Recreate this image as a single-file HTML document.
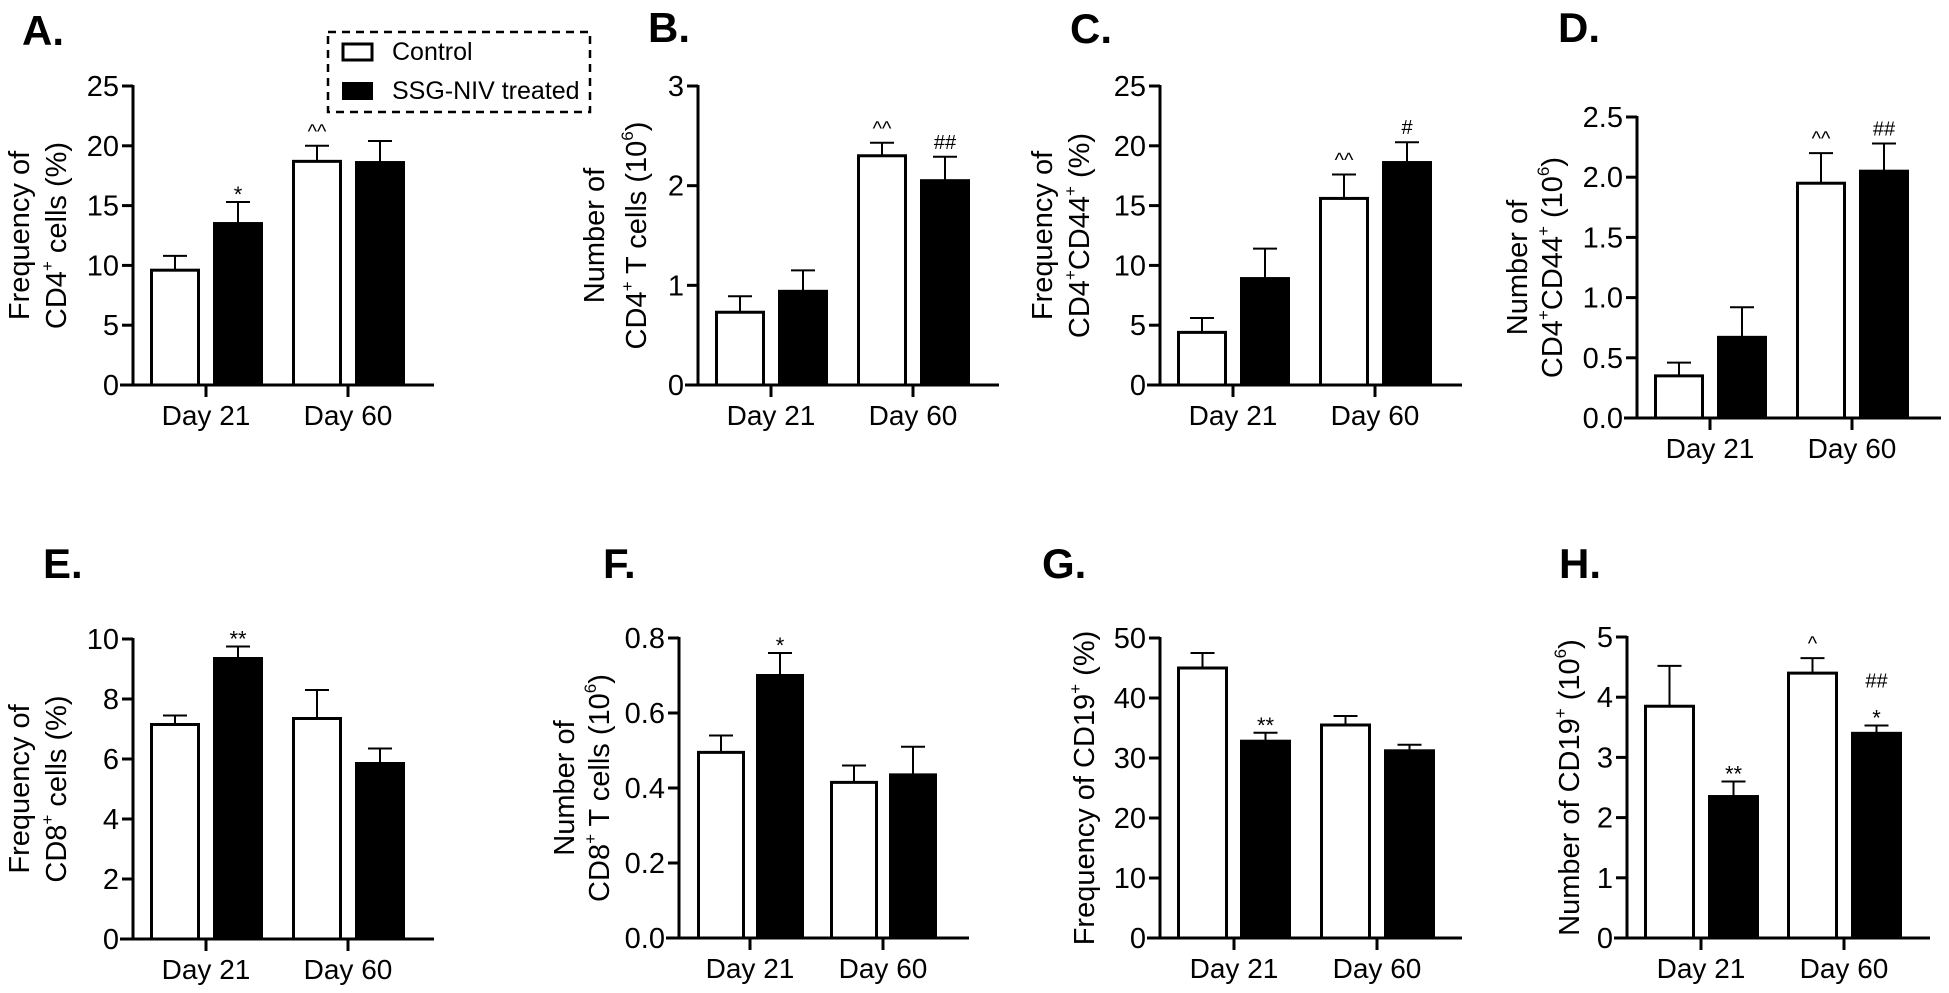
<!DOCTYPE html>
<html><head><meta charset="utf-8">
<style>
html,body{margin:0;padding:0;background:#fff;}
svg{display:block;font-family:"Liberation Sans",Arial,sans-serif;}
</style></head>
<body>
<svg id="fig" width="1949" height="993" viewBox="0 0 1949 993" xmlns="http://www.w3.org/2000/svg">
  <g>
    <rect x="328" y="32" width="262" height="80" fill="none" stroke="#000" stroke-width="2.5" stroke-dasharray="8,6"/>
    <rect x="343" y="44" width="29" height="16" fill="#fff" stroke="#000" stroke-width="3"/>
    <text x="392" y="60" font-size="25">Control</text>
    <rect x="342" y="82" width="31" height="18" fill="#000"/>
    <text x="392" y="99" font-size="25">SSG-NIV treated</text>
  </g>
</svg>
<script>
// ---- data ----
const groups = ["Day 21", "Day 60"];
const panelIds = ["A","B","C","D","E","F","G","H"];
const controlVals = [[9.6,18.7],[0.73,2.3],[4.4,15.6],[0.35,1.95],[7.15,7.35],[0.495,0.415],[45,35.5],[3.85,4.4]];
const controlErr  = [[10.8,20.0],[0.89,2.43],[5.6,17.6],[0.46,2.2],[7.45,8.3],[0.54,0.46],[47.5,37],[4.52,4.65]];
const treatedVals = [[13.5,18.6],[0.94,2.05],[8.9,18.6],[0.67,2.05],[9.35,5.85],[0.70,0.435],[32.8,31.2],[2.35,3.4]];
const treatedErr  = [[15.3,20.4],[1.15,2.29],[11.4,20.3],[0.92,2.28],[9.75,6.35],[0.76,0.51],[34.2,32.2],[2.6,3.53]];
const yMax = [25,3,25,2.5,10,0.8,50,5];
const yStep = [5,1,5,0.5,2,0.2,10,1];
const tickDecimals = [0,0,0,1,0,1,0,0];
const controlMarks = [["",'^^'],["",'^^'],["",'^^'],["",'^^'],["",""],["",""],["",""],["",'^']];
const treatedMarks = [['*',""],["",'##'],["",'#'],["",'##'],['**',""],['*',""],['**',""],['**','##|*']];

// ---- layout ----
const layout = [
 {X:133,top:86,bot:385,bw:50,off:[17,80,159,222],ticks:[73,215],end:301,lx:[20,57],lbl:["Frequency of","CD4|+| cells (%)"],lt:[22,45]},
 {X:698,top:86,bot:385,bw:50,off:[17,80,159,222],ticks:[73,215],end:301,lx:[595,637],lbl:["Number of","CD4|+| T cells (10|6|)"],lt:[648,42]},
 {X:1160,top:86,bot:385,bw:50,off:[17,80,159,222],ticks:[73,215],end:302,lx:[1043,1080],lbl:["Frequency of","CD4|+|CD44|+| (%)"],lt:[1070,43]},
 {X:1637,top:117,bot:418,bw:50,off:[17,80,159,222],ticks:[73,215],end:304,lx:[1518,1553],lbl:["Number of","CD4|+|CD44|+| (10|6|)"],lt:[1558,42]},
 {X:133,top:639,bot:939,bw:50,off:[17,80,159,222],ticks:[73,215],end:301,lx:[20,57],lbl:["Frequency of","CD8|+| cells (%)"],lt:[43,578]},
 {X:679,top:638,bot:938,bw:48,off:[18,77,151,210],ticks:[71,204],end:290,lx:[565,600],lbl:["Number of","CD8|+| T cells (10|6|)"],lt:[603,578]},
 {X:1160,top:638,bot:938,bw:51,off:[17,80,160,224],ticks:[74,217],end:302,lx:[1085],lbl:["Frequency of CD19|+| (%)"],lt:[1042,578]},
 {X:1627,top:637,bot:938,bw:51,off:[17,81,160,224],ticks:[74,217],end:303,lx:[1570],lbl:["Number of CD19|+| (10|6|)"],lt:[1559,578]}
];

const NS="http://www.w3.org/2000/svg";
const svg=document.getElementById('fig');
function mk(tag,attrs,parent){const e=document.createElementNS(NS,tag);for(const k in attrs)e.setAttribute(k,attrs[k]);parent.appendChild(e);return e;}
function richText(el,str){
  const parts=str.split('|');
  parts.forEach((p,i)=>{
    if(!p)return;
    const t=document.createElementNS(NS,'tspan');
    if(i%2===1){t.setAttribute('font-size','17');t.setAttribute('baseline-shift','super');}
    t.textContent=p;el.appendChild(t);
  });
}

panelIds.forEach((pid,i)=>{
  const L=layout[i];
  const g=mk('g',{},svg);
  
  
  const y=v=>L.bot-(v/yMax[i])*(L.bot-L.top);

  const letter=mk('text',{x:L.lt[0],y:L.lt[1],'font-size':'42','font-weight':'bold'},g);
  letter.textContent=pid+'.';
  
  

  const ya=mk('line',{x1:L.X,y1:L.top-1,x2:L.X,y2:L.bot,stroke:'#000','stroke-width':3},g);
  
  
  const nT=Math.round(yMax[i]/yStep[i]);
  for(let k=0;k<=nT;k++){
    const v=k*yStep[i];const yy=y(v);
    const tk=mk('line',{x1:L.X-11,y1:yy,x2:L.X,y2:yy,stroke:'#000','stroke-width':3},g);
    
    
    const tl=mk('text',{x:L.X-14,y:yy+10,'font-size':'29','text-anchor':'end'},g);
    tl.textContent=v.toFixed(tickDecimals[i]);
    
    
  }
  const xa=mk('line',{x1:L.X-13,y1:L.bot,x2:L.X+L.end,y2:L.bot,stroke:'#000','stroke-width':3},g);
  
  
  groups.forEach((gn,j)=>{
    const tx=L.X+L.ticks[j];
    const tk=mk('line',{x1:tx,y1:L.bot,x2:tx,y2:L.bot+12,stroke:'#000','stroke-width':3},g);
    
    
    const tl=mk('text',{x:tx,y:L.bot+40,'font-size':'28','text-anchor':'middle'},g);
    tl.textContent=gn;
    
    
  });
  const cy=(L.top+L.bot)/2;
  L.lbl.forEach((s,k)=>{
    const t=mk('text',{x:0,y:0,'font-size':'29','text-anchor':'middle','dominant-baseline':'central',transform:`translate(${L.lx[k]},${cy}) rotate(-90)`},g);
    richText(t,s);
    
    
  });
  const series=[[controlVals[i],controlErr[i],controlMarks[i],'#fff'],[treatedVals[i],treatedErr[i],treatedMarks[i],'#000']];
  groups.forEach((gn,j)=>{
    series.forEach((s,si)=>{
      const off=L.off[j*2+si];
      const x0=L.X+off, v=s[0][j], e=s[1][j], cx=x0+L.bw/2;
      const ey=y(e), vy=y(v);
      const el=mk('line',{x1:cx,y1:ey,x2:cx,y2:vy,stroke:'#000','stroke-width':2},g);
      
      
      const cap=mk('line',{x1:cx-12,y1:ey,x2:cx+12,y2:ey,stroke:'#000','stroke-width':2},g);
      
      
      let r;
      if(si===0){
        r=mk('rect',{x:x0+1.5,y:vy,width:L.bw-3,height:L.bot-vy,fill:'#fff',stroke:'#000','stroke-width':3},g);
      } else {
        r=mk('rect',{x:x0,y:vy-1.5,width:L.bw,height:L.bot-vy+1.5,fill:'#000'},g);
      }
      
      
      const m=s[2][j];
      if(m){
        const lines=m.split('|');
        lines.forEach((ln,li)=>{
          const ty=ey-8-(lines.length-1-li)*30;
          const isStar=ln.indexOf('*')>=0;
          const t=mk('text',{x:cx,y:isStar?ty+8:ty,'font-size':isStar?'22':'20','text-anchor':'middle'},g);
          t.textContent=ln;
          
          
        });
      }
    });
  });
});
</script>
</body></html>
